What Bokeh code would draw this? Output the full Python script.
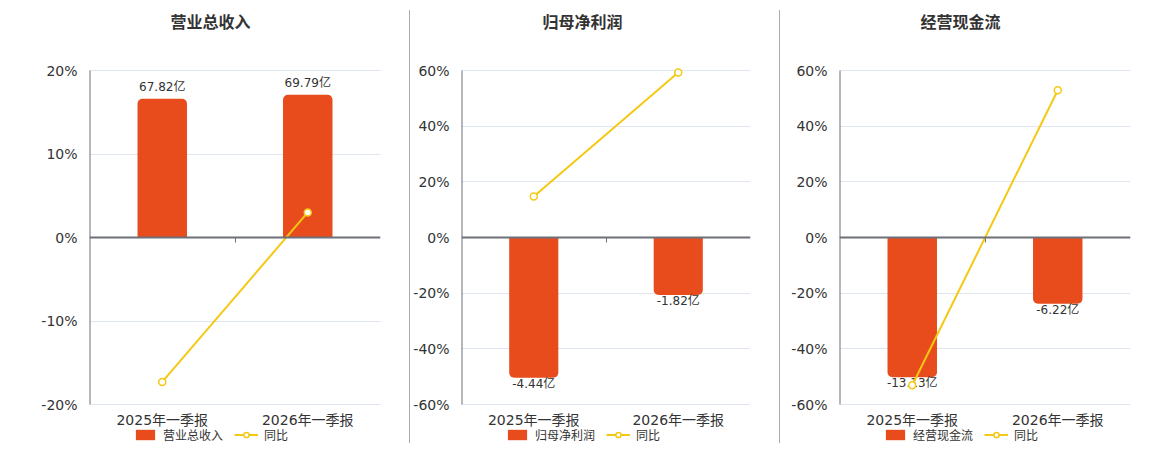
from bokeh.plotting import figure
from bokeh.models import (FactorRange, Range1d, CategoricalAxis, FixedTicker, PrintfTickFormatter,
                          Legend, LegendItem, ColumnDataSource, Div, Label)
from bokeh.layouts import row
from bokeh.core.properties import value
from bokeh.embed import file_html
from bokeh.resources import INLINE

# ---------------- data ----------------
cats = ["2025年一季报", "2026年一季报"]

revenue_name = "营业总收入"
revenue = [67.82, 69.79]          # 亿
revenue_yoy = [-17.3, 3.0]        # %

profit_name = "归母净利润"
profit = [-4.44, -1.82]
profit_yoy = [14.7, 59.3]

cash_name = "经营现金流"
cash = [-13.13, -6.22]
cash_yoy = [-53.1, 52.9]

yoy_label = "同比"
ticks_rev = [-20, -10, 0, 10, 20]
ticks_profit = [-60, -40, -20, 0, 20, 40, 60]
ticks_cash = [-60, -40, -20, 0, 20, 40, 60]

# ---------------- style / layout ----------------
BAR = "#E84C1D"
LINE = "#F5C813"
AXIS = "#6E7079"
GRID = "#E0E6F1"
TXT = "#333333"
FONT = "DejaVu Sans, Noto Sans CJK SC"
H = 450
PAD_TOP = 70      # px above the top tick
PAD_BOT = 46      # px below the bottom tick
PLOT_W = 291


def make_panel(title, name, vals, yoy, ticks, bar_lim, width, left, right):
    k = (H - PAD_TOP - PAD_BOT) / (ticks[-1] - ticks[0])   # px per percent
    y_lo = ticks[0] - PAD_BOT / k
    y_hi = ticks[-1] + PAD_TOP / k
    scale = bar_lim / ticks[-1]
    p = figure(x_range=FactorRange(factors=cats, range_padding=0),
               y_range=Range1d(y_lo, y_hi), x_axis_location=None,
               width=width, height=H,
               min_border_left=left, min_border_right=right,
               min_border_top=0, min_border_bottom=0,
               output_backend="svg", toolbar_location=None, tools="")
    p.extra_y_ranges = {"bars": Range1d(y_lo * scale, y_hi * scale)}
    edges = [f"e{i}" for i in range(len(cats) + 1)]
    p.extra_x_ranges = {"edges": FactorRange(factors=edges, range_padding=-0.5,
                                             range_padding_units="absolute")}
    p.outline_line_color = None
    p.background_fill_color = "white"
    p.border_fill_color = "white"

    # title
    p.add_layout(Label(x=PLOT_W / 2 - 24.5, y=H - 22, x_units="screen", y_units="screen",
                       text=title, text_align="center", text_baseline="middle",
                       text_font=FONT, text_font_size="16px", text_font_style="bold",
                       text_color=TXT))

    # y axis (labels only) + its line limited to the tick span
    p.yaxis.ticker = FixedTicker(ticks=ticks)
    p.yaxis.formatter = PrintfTickFormatter(format="%d%%")
    p.yaxis.axis_line_color = None
    p.yaxis.major_tick_line_color = None
    p.yaxis.minor_tick_line_color = None
    p.yaxis.major_label_text_font = FONT
    p.yaxis.major_label_text_font_size = "14px"
    p.yaxis.major_label_text_color = TXT
    p.yaxis.major_label_standoff = 6
    p.ygrid.grid_line_color = GRID
    p.ygrid.ticker = FixedTicker(ticks=ticks)
    p.xgrid.visible = False
    p.segment(x0=[edges[0]], y0=[ticks[0]], x1=[edges[0]], y1=[ticks[-1]],
              x_range_name="edges", line_color=AXIS, line_width=2)

    # category labels pinned at the bottom tick
    cat_ax = CategoricalAxis(fixed_location=ticks[0], axis_line_color=None,
                             major_tick_line_color=None, minor_tick_line_color=None,
                             major_label_text_font=FONT, major_label_text_font_size="14px",
                             major_label_text_color=TXT, major_label_standoff=1)
    p.add_layout(cat_ax, "below")

    # zero axis line with boundary ticks
    zero_ax = CategoricalAxis(x_range_name="edges", fixed_location=0,
                              major_label_text_font_size="0px",
                              major_label_text_alpha=0,
                              major_tick_in=0, major_tick_out=5,
                              minor_tick_line_color=None,
                              axis_line_color=AXIS, axis_line_width=2,
                              major_tick_line_color=AXIS)
    p.add_layout(zero_ax, "below")

    positive = all(v > 0 for v in vals)
    src = ColumnDataSource(dict(cat=cats, val=vals, lab=[f"{v:.2f}亿" for v in vals], yoy=yoy))
    if positive:
        bar_r = p.vbar(x="cat", top="val", bottom=0, width=0.34, y_range_name="bars",
                       source=src, fill_color=BAR, line_color=None, border_radius=(5, 5, 0, 0))
        p.text(x="cat", y="val", text="lab", y_range_name="bars", source=src,
               text_align="center", text_baseline="bottom", y_offset=-5,
               text_font=value(FONT), text_font_size="12px", text_color=TXT)
    else:
        bar_r = p.vbar(x="cat", top=0, bottom="val", width=0.34, y_range_name="bars",
                       source=src, fill_color=BAR, line_color=None, border_radius=(0, 0, 5, 5))
        p.text(x="cat", y="val", text="lab", y_range_name="bars", source=src,
               text_align="center", text_baseline="top", y_offset=-1,
               text_font=value(FONT), text_font_size="12px", text_color=TXT)

    line_r = p.line(x="cat", y="yoy", source=src, line_color=LINE, line_width=2)
    dot_r = p.scatter(x="cat", y="yoy", source=src, marker="circle", size=7,
                      fill_color="white", line_color=LINE, line_width=1.5)

    legend = Legend(items=[LegendItem(label=name, renderers=[bar_r]),
                           LegendItem(label=yoy_label, renderers=[line_r, dot_r])],
                    location=(44, 7), orientation="horizontal",
                    margin=0, padding=0, spacing=11,
                    glyph_width=24, glyph_height=13, label_height=13,
                    label_standoff=6, label_text_font=FONT, label_text_font_size="12px",
                    label_text_color=TXT, border_line_color=None, background_fill_alpha=0)
    p.add_layout(legend, "center")
    return p


p1 = make_panel(revenue_name, revenue_name, revenue, revenue_yoy, ticks_rev, 81.6, 409, 89, 29)
p2 = make_panel(profit_name, profit_name, profit, profit_yoy, ticks_profit, 5.29, 369, 49, 29)
p3 = make_panel(cash_name, cash_name, cash, cash_yoy, ticks_cash, 15.69, 380, 59, 30)

d1 = Div(width=1, height=433, margin=(10, 0, 7, 0), styles={"background-color": "#AAAAAA"})
d2 = Div(width=1, height=433, margin=(10, 0, 7, 0), styles={"background-color": "#AAAAAA"})

layout = row(p1, d1, p2, d2, p3, spacing=0)
open("out.html", "w").write(file_html(layout, INLINE))
